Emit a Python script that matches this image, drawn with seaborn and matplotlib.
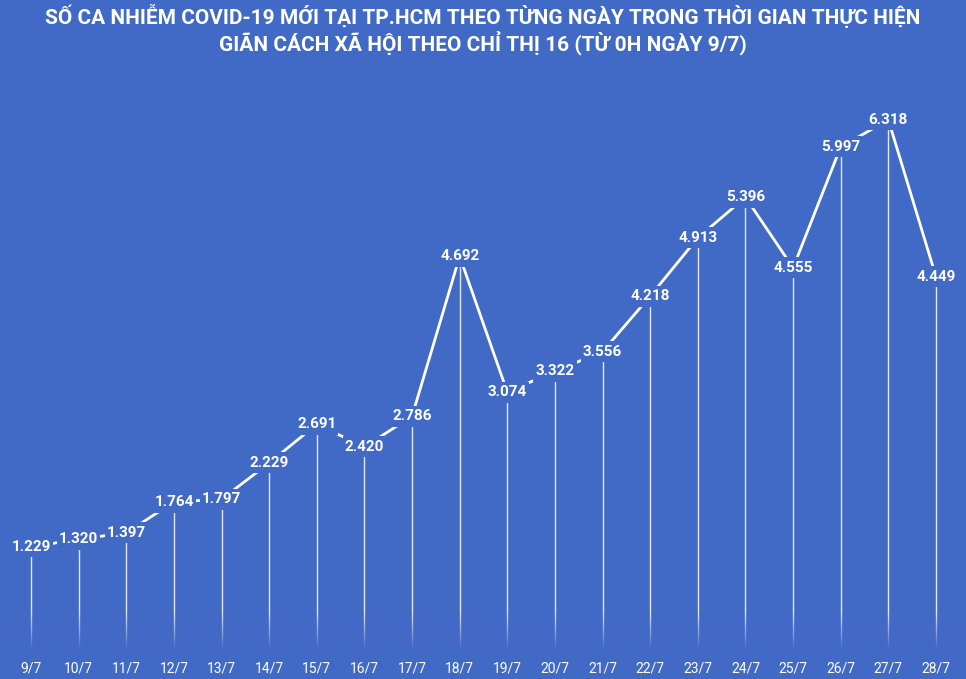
import numpy as np
import pandas as pd
import seaborn as sns
import matplotlib
matplotlib.use("Agg")
import matplotlib.pyplot as plt
from matplotlib.colors import LinearSegmentedColormap
from matplotlib.path import Path

days = ["9/7", "10/7", "11/7", "12/7", "13/7", "14/7", "15/7", "16/7", "17/7", "18/7",
        "19/7", "20/7", "21/7", "22/7", "23/7", "24/7", "25/7", "26/7", "27/7", "28/7"]
cases = [1229, 1320, 1397, 1764, 1797, 2229, 2691, 2420, 2786, 4692,
         3074, 3322, 3556, 4218, 4913, 5396, 4555, 5997, 6318, 4449]
title = ("SỐ CA NHIỄM COVID-19 MỚI TẠI TP.HCM THEO TỪNG NGÀY TRONG THỜI GIAN THỰC HIỆN\n"
         "GIÃN CÁCH XÃ HỘI THEO CHỈ THỊ 16 (TỪ 0H NGÀY 9/7)")

BG = "#4169C6"
sns.set_theme(style="white")
plt.rcParams['font.family'] = ['Roboto', 'DejaVu Sans']

df = pd.DataFrame({"x": np.arange(len(days)), "day": days, "cases": cases})


def label_box(x0, y0, width, height, mutation_size):
    # narrow horizontal padding, taller vertical padding (in pixels at 100 dpi)
    px, py = 2.0, 3.5
    x0, y0 = x0 - px, y0 - py
    x1, y1 = x0 + width + 2 * px, y0 + height + 2 * py
    return Path([(x0, y0), (x1, y0), (x1, y1), (x0, y1), (x0, y0)], closed=True)


fig = plt.figure(figsize=(9.66, 6.79), dpi=100, facecolor=BG)
ax = fig.add_axes([0, 29 / 679, 1, 590 / 679])
ax.set_facecolor(BG)

sns.lineplot(data=df, x="x", y="cases", ax=ax, color="white", linewidth=2.0, zorder=2)
ax.vlines(df["x"], 0, df["cases"], color="white", linewidth=1.0, alpha=0.85, zorder=1)

# fade drop lines toward the bottom
cmap = LinearSegmentedColormap.from_list("fade", [(0.255, 0.412, 0.776, 0.0), (0.255, 0.412, 0.776, 1.0)])
grad = np.linspace(0, 1, 100).reshape(-1, 1)
ax.imshow(grad, extent=[0, 1, 0.0, 0.065], transform=ax.transAxes, cmap=cmap,
          aspect="auto", zorder=1.5, origin="upper")

for xi, v in zip(df["x"], df["cases"]):
    lab = f"{v:,}".replace(",", ".")
    ax.annotate(lab, (xi, v), ha="center", va="center", color="white",
                fontsize=11, fontweight="bold",
                bbox=dict(boxstyle=label_box, fc=BG, ec="none", pad=0), zorder=3)

ax.set_xlim(-31 / 47.63, 19 + 30 / 47.63)
ax.set_ylim(0, 590 / 0.0839)
ax.set_xticks(df["x"])
ax.set_xticklabels(days, color="white", fontsize=10)
ax.tick_params(axis="x", length=0, pad=8)
ax.set_yticks([])
ax.set_xlabel("")
ax.set_ylabel("")
for s in ax.spines.values():
    s.set_visible(False)

fig.text(0.5, 1 - 30 / 679, title, ha="center", va="center", color="white",
         fontsize=15, fontweight="bold", linespacing=1.15)

fig.savefig("out.png", dpi=100, facecolor=BG)
